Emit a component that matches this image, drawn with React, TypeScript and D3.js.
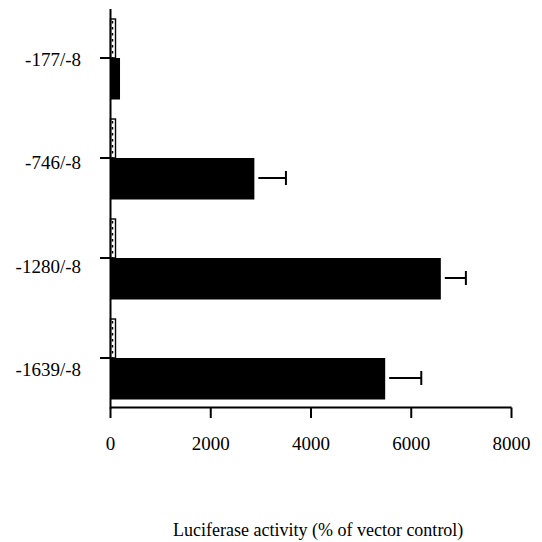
import React from "react";
import * as d3 from "d3";

const constructs = ["-177/-8", "-746/-8", "-1280/-8", "-1639/-8"];
const vectorValues = [100, 100, 100, 100];
const activityValues = [190, 2870, 6590, 5480];
const activityErrors = [0, 630, 500, 720];
const xTicks = [0, 2000, 4000, 6000, 8000];
const xTitle = "Luciferase activity (% of vector control)";

const W = 542;
const H = 542;
const FONT = "'Liberation Serif', 'Times New Roman', serif";

export default function App() {
  const x = d3.scaleLinear().domain([0, 8000]).range([110.5, 511.5]);
  const y = d3
    .scaleBand<string>()
    .domain(constructs)
    .range([8, 408])
    .paddingInner(0.2)
    .paddingOuter(0.1);
  // labels drift down a little in the scan
  const labelY = d3.scaleLinear().domain([0, constructs.length - 1]).range([66, 376]);

  const bw = y.bandwidth();
  const axisY = 407.5;
  const x0 = x(0);

  return (
    <svg
      width={W}
      height={H}
      style={{ position: "absolute", left: 0, top: 0, background: "#fff" }}
      fontFamily={FONT}
    >
      <rect width={W} height={H} fill="#fff" />

      {/* bars */}
      {constructs.map((c, i) => {
        const top = y(c) as number;
        const mid = top + bw / 2;
        const hx = x(vectorValues[i]);
        const bx = x(activityValues[i]);
        const err = activityErrors[i];
        const ey = mid + bw / 4;
        return (
          <g key={c}>
            <rect
              x={x0}
              y={top + 1}
              width={hx - x0}
              height={bw / 2 - 1}
              fill="#fff"
              stroke="#000"
              strokeWidth={1.4}
            />
            <line
              x1={x0 + 2}
              x2={x0 + 2}
              y1={top + 3}
              y2={mid}
              stroke="#000"
              strokeWidth={1.5}
              strokeDasharray="2.5,3.5"
            />
            <rect x={x0} y={mid} width={bx - x0} height={bw / 2 + 1.5} fill="#000" />
            {err > 0 && (
              <g stroke="#000" strokeWidth={2}>
                <line x1={bx + 4} x2={x(activityValues[i] + err)} y1={ey} y2={ey} />
                <line
                  x1={x(activityValues[i] + err)}
                  x2={x(activityValues[i] + err)}
                  y1={ey - 7}
                  y2={ey + 7}
                />
              </g>
            )}
            <line x1={100} x2={x0} y1={mid} y2={mid} stroke="#000" strokeWidth={2} />
            <text
              x={81}
              y={labelY(i)}
              textAnchor="end"
              fontSize={19}
              fill="#000"
            >
              {c}
            </text>
          </g>
        );
      })}

      {/* y axis */}
      <line x1={x0} x2={x0} y1={9} y2={axisY + 1} stroke="#000" strokeWidth={2} />

      {/* x axis */}
      <line x1={x0} x2={x(8000)} y1={axisY} y2={axisY} stroke="#000" strokeWidth={2} />
      {xTicks.map((t) => (
        <g key={t}>
          <line x1={x(t)} x2={x(t)} y1={axisY} y2={418} stroke="#000" strokeWidth={2} />
          <text x={x(t)} y={450} textAnchor="middle" fontSize={19} fill="#000">
            {t}
          </text>
        </g>
      ))}

      <text x={173} y={536} fontSize={18} fill="#000">
        {xTitle}
      </text>
    </svg>
  );
}
